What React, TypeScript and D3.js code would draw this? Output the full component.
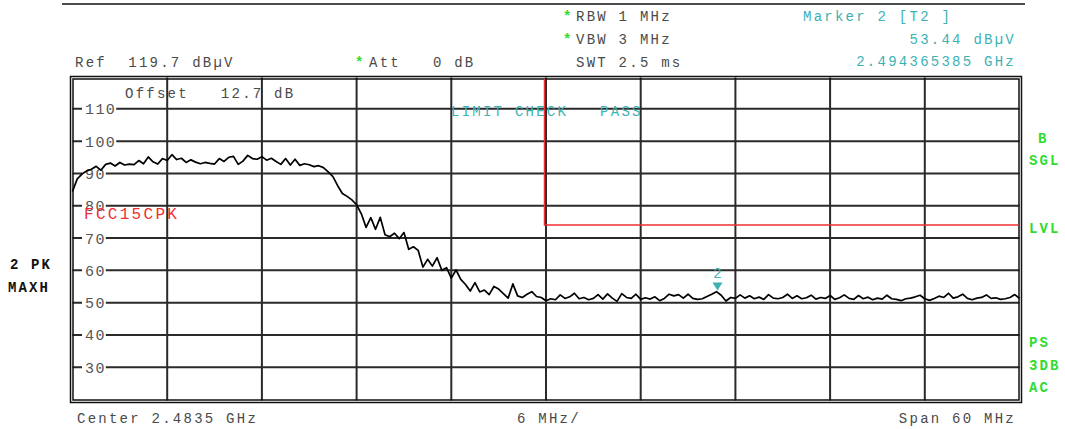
import React from 'react';
import * as d3 from 'd3';

const START_GHZ = 2.4535;
const STOP_GHZ = 2.5135;
const REF_LEVEL = 119.7;
const BOTTOM_LEVEL = 19.7;
const yTicks = [110, 100, 90, 80, 70, 60, 50, 40, 30];
const xDivisions = d3.range(0, 11);

const traceLevels = [
  84.4, 88.3, 89.8, 90.8, 91.3, 92.2, 91.0, 92.8, 93.2, 92.3,
  93.4, 92.6, 92.9, 92.7, 94.0, 93.0, 95.1, 93.6, 92.9, 94.6,
  94.0, 95.8, 94.3, 94.7, 93.4, 94.2, 93.5, 93.0, 93.4, 93.1,
  92.9, 94.6, 93.7, 95.0, 95.3, 92.8, 93.8, 95.6, 94.6, 94.4,
  95.2, 94.1, 94.7, 93.7, 92.8, 94.6, 92.6, 94.4, 92.5, 93.0,
  92.7, 92.1, 92.4, 91.8, 90.5, 89.0, 86.2, 83.8, 82.9, 81.8,
  80.3, 77.5, 73.3, 76.3, 72.7, 76.4, 71.0, 70.4, 71.5, 69.8,
  71.7, 66.5, 67.3, 66.2, 61.0, 63.4, 61.3, 63.9, 60.0, 60.8,
  57.6, 60.1, 57.2, 55.6, 53.6, 56.2, 53.3, 53.9, 52.5, 55.0,
  54.2, 52.8, 51.4, 55.8, 52.1, 51.6, 52.6, 53.4, 51.9, 51.6,
  50.6, 51.2, 50.9, 52.4, 51.3, 51.8, 52.9, 51.2, 51.6, 50.9,
  51.3, 52.5, 51.1, 52.7, 51.4, 50.4, 52.8, 51.6, 51.3, 52.6,
  51.0, 51.5, 51.1, 51.8, 50.6, 51.3, 52.6, 52.1, 52.5, 51.4,
  52.6, 51.3, 51.0, 51.2, 51.9, 52.6, 53.4, 52.3, 50.5, 51.6,
  51.3, 52.4, 51.4, 52.1, 51.2, 51.7, 51.0, 52.5, 51.4, 51.2,
  51.6, 52.6, 51.3, 52.1, 51.2, 51.5, 52.3, 51.1, 51.6, 51.3,
  52.2, 51.0, 51.5, 52.4, 51.3, 51.0, 52.2, 51.2, 51.7, 50.9,
  51.4, 51.1, 52.3, 51.2, 51.0, 50.6, 51.2, 51.4, 51.8, 52.3,
  51.2, 50.7, 51.3, 52.0, 51.6, 52.9, 51.4, 51.8, 52.6, 51.3,
  50.9, 51.4, 51.6, 52.4, 51.3, 51.5, 51.0, 51.2, 51.6, 52.5,
  51.3,
];

const LIMIT_START_GHZ = 2.4835;
const LIMIT_LEVEL = 74;
const MARKER_FREQ = 2.494365385;
const MARKER_LEVEL = 53.44;
const MARKER_LABEL = '2';

const headerTexts = ['Ref  119.7 dBµV', 'Att   0 dB', 'RBW 1 MHz', 'VBW 3 MHz', 'SWT 2.5 ms'];
const markerTexts = ['Marker 2 [T2 ]', '53.44 dBµV', '2.494365385 GHz'];
const footerTexts = ['Center 2.4835 GHz', '6 MHz/', 'Span 60 MHz'];
const rightFlags = ['B', 'SGL', 'LVL', 'PS', '3DB', 'AC'];
const leftFlags = ['2 PK', 'MAXH'];

const MONO = "'Courier New', 'Liberation Mono', monospace";
const GRAY = '#4a4a4a';
const GREEN = '#2fdc2f';
const TEAL = '#3cb2b2';
const RED = '#f03030';

export default function App() {
  const left = 72.5, right = 1019.5, top = 77.5, bottom = 400.5;
  const x = d3.scaleLinear().domain([START_GHZ, STOP_GHZ]).range([left, right]);
  const y = d3.scaleLinear().domain([BOTTOM_LEVEL, REF_LEVEL]).range([bottom, top]);
  const n = traceLevels.length;
  const freqs = traceLevels.map((_, i) => START_GHZ + (i * (STOP_GHZ - START_GHZ)) / (n - 1));
  const line = d3
    .line<number>()
    .x((_, i) => x(freqs[i]))
    .y((d) => y(d));
  const gridX = xDivisions.slice(1, 10).map((k) => x(START_GHZ + (k * (STOP_GHZ - START_GHZ)) / 10));

  const txt = { fontFamily: MONO, fontSize: 14, letterSpacing: 2.25, whiteSpace: 'pre' } as React.CSSProperties;
  const bold = { fontFamily: MONO, fontSize: 14, letterSpacing: 2.1, fontWeight: 700, whiteSpace: 'pre' } as React.CSSProperties;

  const mx = x(MARKER_FREQ);
  const my = y(MARKER_LEVEL);
  const limX = x(LIMIT_START_GHZ) - 1.5;
  const limY = y(LIMIT_LEVEL);

  return (
    <svg width={1065} height={429} style={{ position: 'absolute', left: 0, top: 0, background: '#fff' }}>
      <line x1={62} x2={1025} y1={4} y2={4} stroke="#111" strokeWidth={1.5} />

      {/* header */}
      <text x={563} y={21} fill={GREEN} style={bold}>*</text>
      <text x={576} y={21} fill={GRAY} style={txt}>{headerTexts[2]}</text>
      <text x={563} y={44} fill={GREEN} style={bold}>*</text>
      <text x={576} y={44} fill={GRAY} style={txt}>{headerTexts[3]}</text>
      <text x={576} y={67} fill={GRAY} style={txt}>{headerTexts[4]}</text>
      <text x={75} y={67} fill={GRAY} style={txt}>{headerTexts[0]}</text>
      <text x={355} y={67} fill={GREEN} style={bold}>*</text>
      <text x={369} y={67} fill={GRAY} style={txt}>{headerTexts[1]}</text>
      <text x={803} y={21} fill={TEAL} style={txt}>{markerTexts[0]}</text>
      <text x={1016} y={44} fill={TEAL} style={txt} textAnchor="end">{markerTexts[1]}</text>
      <text x={1016} y={66} fill={TEAL} style={txt} textAnchor="end">{markerTexts[2]}</text>

      {/* grid */}
      {yTicks.map((t) => (
        <line key={'h' + t} x1={left} x2={right} y1={y(t)} y2={y(t)} stroke="#2a2a2a" strokeWidth={2} />
      ))}
      {gridX.map((gx, i) => (
        <line key={'v' + i} x1={gx} x2={gx} y1={top} y2={bottom} stroke="#2a2a2a" strokeWidth={2} />
      ))}
      {yTicks.map((t) => {
        const label = String(t);
        const w = label.length * 10.4;
        return (
          <g key={'l' + t}>
            <rect x={82} y={y(t) - 2} width={w + 3} height={4} fill="#fff" />
            <text x={85} y={y(t) + 5.5} fill="#555" style={{ fontFamily: MONO, fontSize: 15, letterSpacing: 1.4 }}>
              {label}
            </text>
          </g>
        );
      })}

      {/* frame */}
      <rect x={70.5} y={76.5} width={951} height={326} fill="none" stroke="#111" strokeWidth={1.5} />
      <rect x={73} y={79} width={946} height={321} fill="none" stroke="#111" strokeWidth={1.5} />

      <text x={125} y={98} fill={GRAY} style={txt}>{'Offset   12.7 dB'}</text>
      <text x={451} y={116} fill={TEAL} style={txt}>{'LIMIT CHECK   PASS'}</text>

      {/* limit line */}
      <path d={`M${limX},${top + 1.5}V${limY}H${right - 1}`} fill="none" stroke={RED} strokeWidth={1.5} />
      <text x={84} y={219} fill={RED} style={{ fontFamily: MONO, fontSize: 16, letterSpacing: 2.3 }}>FCC15CPK</text>

      {/* trace */}
      <path d={line(traceLevels) || ''} fill="none" stroke="#000" strokeWidth={1.7} strokeLinejoin="round" />

      {/* marker */}
      <path d={`M${mx - 5},${my - 9}H${mx + 5}L${mx},${my - 1}Z`} fill={TEAL} />
      <text x={mx} y={my - 14} fill={TEAL} textAnchor="middle" style={{ fontFamily: MONO, fontSize: 14 }}>
        {MARKER_LABEL}
      </text>

      {/* side flags */}
      <text x={1038} y={143} fill={GREEN} style={bold}>{rightFlags[0]}</text>
      <text x={1029} y={165} fill={GREEN} style={bold}>{rightFlags[1]}</text>
      <text x={1029} y={233} fill={GREEN} style={bold}>{rightFlags[2]}</text>
      <text x={1029} y={347} fill={GREEN} style={bold}>{rightFlags[3]}</text>
      <text x={1029} y={370} fill={GREEN} style={bold}>{rightFlags[4]}</text>
      <text x={1029} y={392} fill={GREEN} style={bold}>{rightFlags[5]}</text>
      <text x={10} y={269} fill="#111" style={bold}>{leftFlags[0]}</text>
      <text x={8} y={292} fill="#111" style={bold}>{leftFlags[1]}</text>

      {/* footer */}
      <text x={77} y={423} fill={GRAY} style={txt}>{footerTexts[0]}</text>
      <text x={517} y={423} fill={GRAY} style={txt}>{footerTexts[1]}</text>
      <text x={1016} y={423} fill={GRAY} style={txt} textAnchor="end">{footerTexts[2]}</text>
    </svg>
  );
}
